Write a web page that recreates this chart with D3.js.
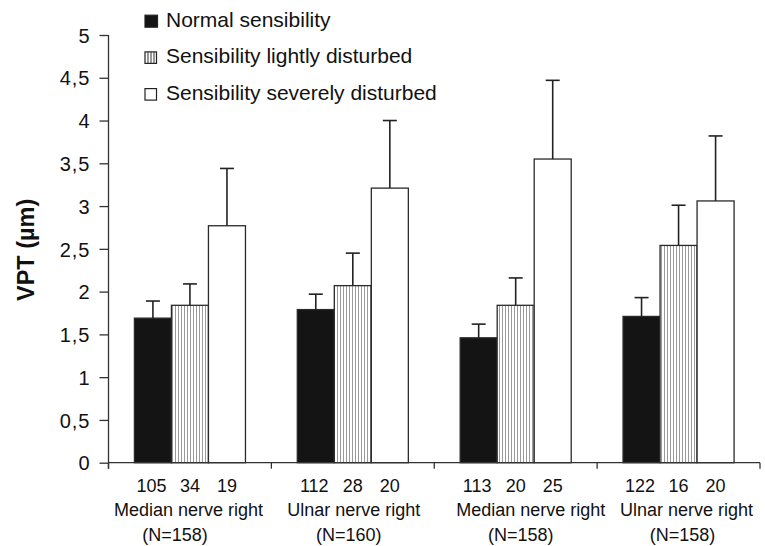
<!DOCTYPE html>
<html>
<head>
<meta charset="utf-8">
<script src="https://cdn.jsdelivr.net/npm/d3@7/dist/d3.min.js"></script>
<style>
  html, body { margin: 0; padding: 0; background: #fff; }
  svg { display: block; font-family: "Liberation Sans", Arial, Helvetica, sans-serif; }
</style>
</head>
<body>
<svg id="chart" width="765" height="546"></svg>
<script>
// ---- data ----
const groups = ["Median nerve right A", "Ulnar nerve right A", "Median nerve right B", "Ulnar nerve right B"];
const groupNames = ["Median nerve right", "Ulnar nerve right", "Median nerve right", "Ulnar nerve right"];
const groupN = ["(N=158)", "(N=160)", "(N=158)", "(N=158)"];
const series = ["Normal sensibility", "Sensibility lightly disturbed", "Sensibility severely disturbed"];
const normalMean = [1.69, 1.79, 1.46, 1.71];
const lightMean  = [1.84, 2.07, 1.84, 2.54];
const severeMean = [2.77, 3.21, 3.55, 3.06];
const normalSD = [0.20, 0.18, 0.16, 0.22];
const lightSD  = [0.25, 0.38, 0.32, 0.47];
const severeSD = [0.67, 0.79, 0.92, 0.76];
const normalCount = [105, 112, 113, 122];
const lightCount  = [34, 28, 20, 16];
const severeCount = [19, 20, 25, 20];
const yTicks = [0, 0.5, 1, 1.5, 2, 2.5, 3, 3.5, 4, 4.5, 5];
const yTitle = "VPT (µm)";

// ---- layout ----
(function () {
const svg = d3.select("#chart");
const mLeft = 108.5, mRight = 760, mTop = 35, mBottom = 462.7;
const means = [normalMean, lightMean, severeMean];
const sds = [normalSD, lightSD, severeSD];
const counts = [normalCount, lightCount, severeCount];

const x = d3.scaleBand().domain(groups).range([mLeft, mRight]).padding(0);
const xi = d3.scaleBand().domain(series).range([0, x.bandwidth()]).paddingInner(0).paddingOuter(0.7);
const y = d3.scaleLinear().domain([0, 5]).range([mBottom, mTop]);

const defs = svg.append("defs");
const pat = defs.append("pattern").attr("id", "vstripes").attr("patternUnits", "userSpaceOnUse")
  .attr("width", 3).attr("height", 10);
pat.append("rect").attr("width", 3).attr("height", 10).attr("fill", "#fff");
pat.append("line").attr("x1", 1.5).attr("x2", 1.5).attr("y1", 0).attr("y2", 10)
  .attr("stroke", "#9a9a9a").attr("stroke-width", 1);

const fills = ["#141414", "url(#vstripes)", "#fff"];

const data = [];
groups.forEach((g, gi) => {
  series.forEach((s, si) => {
    data.push({ g, gi, s, si, v: means[si][gi], sd: sds[si][gi], n: counts[si][gi] });
  });
});

// bars
svg.append("g").selectAll("rect").data(data).join("rect")
  .attr("x", d => x(d.g) + xi(d.s))
  .attr("y", d => y(d.v))
  .attr("width", xi.bandwidth())
  .attr("height", d => y(0) - y(d.v))
  .attr("fill", d => fills[d.si])
  .attr("stroke", "#2a2a2a")
  .attr("stroke-width", 1.3);

// error bars
const eb = svg.append("g").attr("stroke", "#222").attr("stroke-width", 1.6).attr("fill", "none");
const capW = 14;
data.forEach(d => {
  const cx = x(d.g) + xi(d.s) + xi.bandwidth() / 2;
  eb.append("line").attr("x1", cx).attr("x2", cx).attr("y1", y(d.v)).attr("y2", y(d.v + d.sd));
  eb.append("line").attr("x1", cx - capW / 2).attr("x2", cx + capW / 2)
    .attr("y1", y(d.v + d.sd)).attr("y2", y(d.v + d.sd));
});

// y axis
const yAxis = d3.axisLeft(y).tickValues(yTicks).tickSize(9).tickPadding(9)
  .tickFormat(d => String(d).replace(".", ","));
const ya = svg.append("g").attr("transform", `translate(${mLeft},0)`).call(yAxis);
ya.select(".domain").attr("d", `M0,${mTop}V${mBottom + 6}`).attr("stroke", "#333").attr("stroke-width", 1.3);
ya.selectAll(".tick line").attr("stroke", "#333").attr("stroke-width", 1.3);
ya.selectAll(".tick text").attr("font-size", 20).attr("fill", "#111")
  .attr("letter-spacing", 1).attr("dy", "0.36em");

// x axis line and group boundary ticks
const xa = svg.append("g").attr("stroke", "#333").attr("stroke-width", 1.3);
xa.append("line").attr("x1", mLeft).attr("x2", mRight).attr("y1", mBottom).attr("y2", mBottom);
const bounds = groups.map(g => x(g)).concat([x(groups[groups.length - 1]) + x.bandwidth()]);
xa.selectAll("line.b").data(bounds).join("line").attr("class", "b")
  .attr("x1", d => d).attr("x2", d => d).attr("y1", mBottom).attr("y2", mBottom + 6);

// count labels
svg.append("g").selectAll("text").data(data).join("text")
  .attr("x", d => x(d.g) + xi(d.s) + xi.bandwidth() / 2 + (d.si === 0 ? -1.5 : 0))
  .attr("y", 492)
  .attr("text-anchor", "middle").attr("font-size", 18).attr("fill", "#111")
  .text(d => d.n);

// group names and N
const nameNudge = [-1.5, 1, 15, 8];
const nNudge = [-15, -4, 5, 4];
svg.append("g").selectAll("text").data(groups).join("text")
  .attr("x", (g, i) => x(g) + x.bandwidth() / 2 + nameNudge[i])
  .attr("y", 516)
  .attr("text-anchor", "middle").attr("font-size", 18).attr("fill", "#111")
  .text((g, i) => groupNames[i]);
svg.append("g").selectAll("text").data(groups).join("text")
  .attr("x", (g, i) => x(g) + x.bandwidth() / 2 + nNudge[i])
  .attr("y", 541)
  .attr("text-anchor", "middle").attr("font-size", 18).attr("fill", "#111")
  .text((g, i) => groupN[i]);

// y title
svg.append("text")
  .attr("transform", `translate(34,${(mTop + mBottom) / 2 + 1}) rotate(-90)`)
  .attr("text-anchor", "middle").attr("font-size", 23.5).attr("font-weight", "bold").attr("fill", "#111")
  .text(yTitle);

// legend
const leg = svg.append("g");
series.forEach((s, i) => {
  const by = 26.7 + i * 36.7;
  leg.append("rect").attr("x", 145).attr("y", by - 11.5).attr("width", i === 0 ? 12.5 : 11.5).attr("height", i === 0 ? 12 : 11.5)
    .attr("fill", i === 1 ? "#fff" : fills[i]).attr("stroke", "#222").attr("stroke-width", 1.2);
  if (i === 1) {
    [148, 151, 154].forEach(lx => {
      leg.append("line").attr("x1", lx).attr("x2", lx).attr("y1", by - 11.5).attr("y2", by)
        .attr("stroke", "#333").attr("stroke-width", 1);
    });
  }
  leg.append("text").attr("x", 166).attr("y", by).attr("font-size", 21).attr("fill", "#111").text(s);
});
})();
</script>
</body>
</html>
